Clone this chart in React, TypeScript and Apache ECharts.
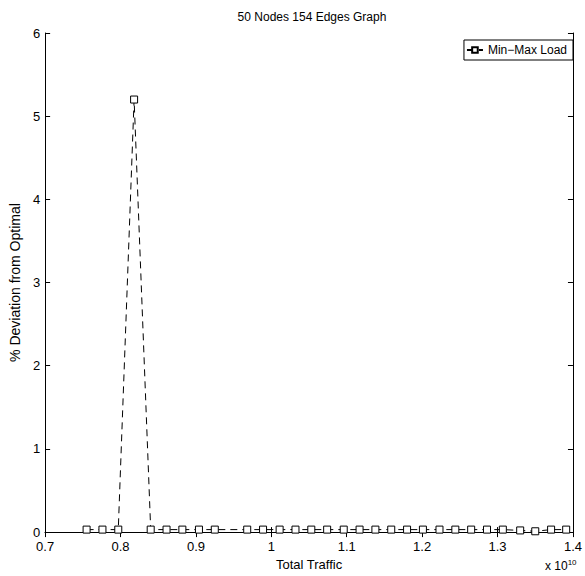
import React, { useEffect, useRef } from "react";
import * as echarts from "echarts";

const chartTitle = "50 Nodes 154 Edges Graph";
const seriesName = "Min\u2212Max Load";
const xName = "Total Traffic";
const yName = "% Deviation from Optimal";
const xValues = [
  0.755, 0.776, 0.797, 0.818, 0.840, 0.861, 0.882, 0.904, 0.925, 0.968,
  0.989, 1.011, 1.032, 1.053, 1.074, 1.096, 1.117, 1.138, 1.159, 1.180,
  1.201, 1.223, 1.244, 1.265, 1.286, 1.307, 1.330, 1.350, 1.371, 1.391,
];
const yValues = [
  0.03, 0.03, 0.03, 5.2, 0.03, 0.03, 0.03, 0.03, 0.03, 0.03,
  0.03, 0.03, 0.03, 0.03, 0.03, 0.03, 0.03, 0.03, 0.03, 0.03,
  0.03, 0.03, 0.03, 0.03, 0.03, 0.03, 0.02, 0.01, 0.03, 0.03,
];
const xTicks = { min: 0.7, max: 1.4, interval: 0.1 };
const yTicks = { min: 0, max: 6, interval: 1 };

const FONT = "'Liberation Sans', Arial, sans-serif";

export default function App() {
  const ref = useRef<HTMLDivElement>(null);
  useEffect(() => {
    document.body.style.margin = "0";
    document.body.style.overflow = "hidden";
    if (!ref.current) return;
    const chart = echarts.init(ref.current, undefined, { renderer: "svg" });
    const data = xValues.map((x, i) => [x, yValues[i]]);
    const axisLine = { show: true, lineStyle: { color: "#000", width: 1 } };
    const axisTick = { show: true, inside: true, length: 5, lineStyle: { color: "#000" } };
    chart.setOption({
      animation: false,
      backgroundColor: "#fff",
      textStyle: { fontFamily: FONT },
      title: {
        text: chartTitle,
        left: 307,
        top: 6,
        textAlign: "center",
        textStyle: { fontSize: 12, fontWeight: "normal", color: "#000", fontFamily: FONT },
      },
      grid: { left: 40, right: 10, top: 33, bottom: 42, containLabel: false },
      legend: {
        right: 12,
        top: 40,
        orient: "vertical",
        borderColor: "#000",
        borderWidth: 1,
        borderRadius: 0,
        padding: [4, 6, 4, 2],
        itemWidth: 16,
        itemHeight: 7,
        itemGap: 4,
        backgroundColor: "#fff",
        textStyle: { fontSize: 12, color: "#000", fontFamily: FONT },
        data: [{ name: seriesName }],
      },
      xAxis: [
        {
          type: "value",
          min: xTicks.min,
          max: xTicks.max,
          interval: xTicks.interval,
          name: xName,
          nameLocation: "middle",
          nameGap: 22,
          nameTextStyle: { fontSize: 13, color: "#000", fontFamily: FONT },
          axisLine,
          axisTick,
          splitLine: { show: false },
          axisLabel: {
            color: "#000",
            fontSize: 13,
            margin: 8,
            fontFamily: FONT,
            formatter: (v: number) => String(parseFloat(v.toFixed(2))),
          },
        },
        {
          type: "value",
          position: "top",
          min: xTicks.min,
          max: xTicks.max,
          interval: xTicks.interval,
          axisLine,
          axisTick,
          splitLine: { show: false },
          axisLabel: { show: false },
        },
      ],
      yAxis: [
        {
          type: "value",
          min: yTicks.min,
          max: yTicks.max,
          interval: yTicks.interval,
          name: yName,
          nameLocation: "middle",
          nameGap: 12,
          nameTextStyle: { fontSize: 14, color: "#000", fontFamily: FONT },
          axisLine,
          axisTick,
          splitLine: { show: false },
          axisLabel: { color: "#000", fontSize: 13, margin: 5, fontFamily: FONT },
        },
        {
          type: "value",
          position: "right",
          min: yTicks.min,
          max: yTicks.max,
          interval: yTicks.interval,
          axisLine,
          axisTick,
          splitLine: { show: false },
          axisLabel: { show: false },
        },
      ],
      series: [
        {
          name: seriesName,
          type: "line",
          data,
          symbol: "rect",
          symbolSize: 7,
          showSymbol: true,
          lineStyle: { color: "#000", width: 1, type: [7, 5] },
          itemStyle: { color: "#fff", borderColor: "#000", borderWidth: 1 },
          emphasis: { disabled: true },
        },
      ],
      graphic: [
        {
          type: "text",
          left: 545,
          top: 558,
          style: {
            text: "x 10{sup|10}",
            fill: "#000",
            fontSize: 12,
            fontFamily: FONT,
            rich: { sup: { fontSize: 8, verticalAlign: "top", padding: [0, 0, 8, 0] } },
          },
        },
      ],
    });
    return () => chart.dispose();
  }, []);
  return <div ref={ref} style={{ width: 585, height: 576 }} />;
}
